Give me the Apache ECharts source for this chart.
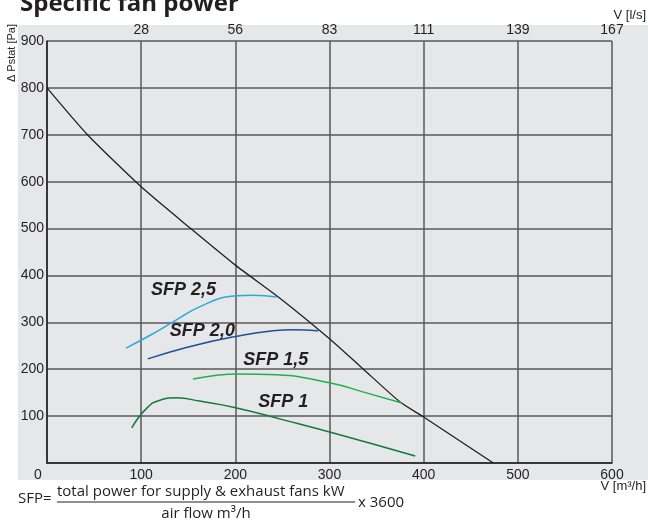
<!DOCTYPE html>
<html>
<head>
<meta charset="utf-8">
<script src="https://cdn.jsdelivr.net/npm/echarts@6/dist/echarts.min.js"></script>
<style>html,body{margin:0;padding:0;background:#fff}#c{width:648px;height:524px}</style>
</head>
<body>
<div id="c"></div>
<script>
// ---- data ----
const xTickLabels = ['0', '100', '200', '300', '400', '500', '600'];
const topTickLabels = ['', '28', '56', '83', '111', '139', '167'];
const yTickLabels = ['', '100', '200', '300', '400', '500', '600', '700', '800', '900'];

const fanCurveX = [0, 43, 100, 152, 200, 247, 300, 336, 375, 400, 474];
const fanCurveY = [800, 700, 589, 501, 422, 352, 265, 200, 130, 98, 0];

const sfp25X = [84, 110, 134, 162, 198, 219, 244];
const sfp25Y = [245, 273, 301, 333, 356, 358, 354];

const sfp20X = [107, 149, 198, 240, 261, 288];
const sfp20Y = [222, 247, 269, 282, 284, 282];

const sfp15X = [155, 205, 244, 300, 340, 377];
const sfp15Y = [179, 190, 188, 171, 149, 128];

const sfp10X = [90, 106, 120, 138, 162, 198, 251, 304, 391];
const sfp10Y = [75, 117, 134, 139, 132, 119, 92, 64, 15];

const sfpNames = ['SFP 2,5', 'SFP 2,0', 'SFP 1,5', 'SFP 1'];
const sfpLabelX = [145, 165, 243, 251];
const sfpLabelY = [369, 281, 220, 130];

// ---- build ----
const zip = (a, b) => a.map((v, i) => [v, b[i]]);
const chart = echarts.init(document.getElementById('c'), null, {renderer: 'canvas'});
const gridColor = '#58595b';
const txt = '#231f20';
const tickFont = 'Liberation Sans, Arial, sans-serif';

const curve = (data, color, width, smooth) => ({
  type: 'line', data, smooth, symbol: 'none', silent: true,
  lineStyle: {color, width}, z: 3
});

chart.setOption({
  animation: false,
  backgroundColor: '#fff',
  grid: {left: 47, right: 36, top: 41, bottom: 61, containLabel: false},
  xAxis: [{
    type: 'value', min: 0, max: 600, interval: 100, position: 'bottom',
    axisLine: {show: true, onZero: false, lineStyle: {color: txt, width: 1.5}},
    axisTick: {show: false},
    splitLine: {show: true, lineStyle: {color: gridColor, width: 1.5}},
    axisLabel: {
      margin: 5, color: txt, fontSize: 14, fontFamily: tickFont,
      formatter: (v) => { const i = Math.round(v / 100); return i === 0 ? '{z|' + xTickLabels[0] + '}' : xTickLabels[i]; },
      rich: {z: {color: txt, fontSize: 14, fontFamily: tickFont, padding: [0, 18, 0, 0]}}
    }
  }, {
    type: 'value', min: 0, max: 600, interval: 100, position: 'top',
    axisLine: {show: false}, axisTick: {show: false}, splitLine: {show: false},
    axisLabel: {
      margin: 4, color: txt, fontSize: 14, fontFamily: tickFont,
      formatter: (v) => topTickLabels[Math.round(v / 100)]
    }
  }],
  yAxis: {
    type: 'value', min: 0, max: 900, interval: 100,
    axisLine: {show: true, lineStyle: {color: txt, width: 1.5}},
    axisTick: {show: false},
    splitLine: {show: true, lineStyle: {color: gridColor, width: 1.5}},
    axisLabel: {
      margin: 3, color: txt, fontSize: 14, fontFamily: tickFont,
      formatter: (v) => yTickLabels[Math.round(v / 100)]
    }
  },
  series: [
    curve(zip(fanCurveX, fanCurveY), txt, 1.3, 0.2),
    curve(zip(sfp25X, sfp25Y), '#27a9e1', 1.5, 0.5),
    curve(zip(sfp20X, sfp20Y), '#1c4f9c', 1.5, 0.5),
    curve(zip(sfp15X, sfp15Y), '#1db24f', 1.5, 0.5),
    curve(zip(sfp10X, sfp10Y), '#137a3a', 1.5, 0.5),
    {
      type: 'scatter', symbolSize: 0, silent: true, z: 4,
      itemStyle: {opacity: 1},
      data: sfpNames.map((n, i) => ({name: n, value: [sfpLabelX[i], sfpLabelY[i]]})),
      label: {
        show: true, position: 'inside', formatter: (p) => p.name, opacity: 1,
        color: txt, fontSize: 18, fontWeight: 'bold', fontStyle: 'italic', fontFamily: tickFont
      }
    }
  ],
  graphic: [
    {type: 'rect', shape: {x: 18, y: 25, width: 630, height: 455}, style: {fill: '#e6e7e8'}, z: -10, silent: true},
    {type: 'text', x: 20, y: 4, style: {text: 'Specific fan power', font: 'bold 24px "Open Sans"', fill: txt, verticalAlign: 'middle'}},
    {type: 'text', x: 646, y: 15, style: {text: 'V [l/s]', font: '13px "Liberation Sans"', fill: txt, align: 'right', verticalAlign: 'middle'}},
    {type: 'text', x: 646, y: 486, style: {text: 'V [m³/h]', font: '13px "Liberation Sans"', fill: txt, align: 'right', verticalAlign: 'middle'}},
    {type: 'text', x: 12, y: 53, rotation: Math.PI / 2, style: {text: 'Δ Pstat [Pa]', font: '11px "Liberation Sans"', fill: txt, align: 'center', verticalAlign: 'middle'}},
    {type: 'text', x: 18, y: 499, style: {text: 'SFP=', font: '15px "Open Sans"', fill: txt, verticalAlign: 'middle'}},
    {type: 'text', x: 57, y: 492, style: {text: 'total power for supply & exhaust fans kW', font: '15px "Open Sans"', fill: txt, verticalAlign: 'middle'}},
    {type: 'line', shape: {x1: 57, y1: 502, x2: 355, y2: 502}, style: {stroke: txt, lineWidth: 1}},
    {type: 'text', x: 206, y: 514, style: {text: 'air flow m³/h', font: '15px "Open Sans"', fill: txt, align: 'center', verticalAlign: 'middle'}},
    {type: 'text', x: 358, y: 503, style: {text: 'x 3600', font: '15px "Open Sans"', fill: txt, verticalAlign: 'middle'}}
  ]
});
</script>
</body>
</html>
